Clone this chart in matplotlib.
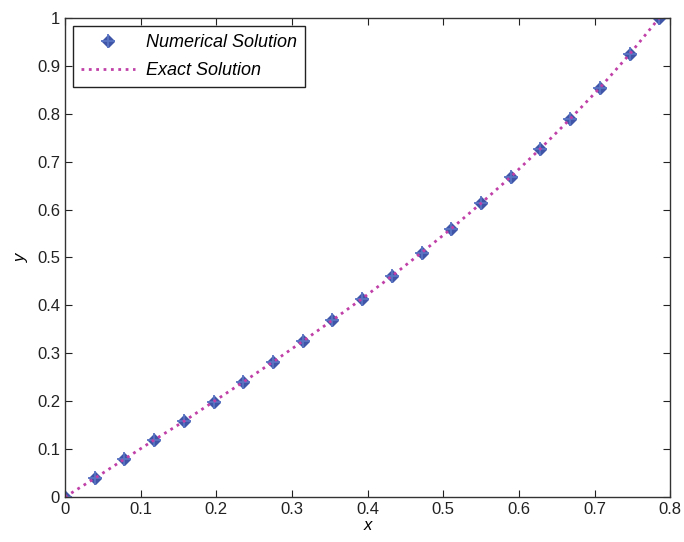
import numpy as np
import matplotlib
matplotlib.use("Agg")
import matplotlib.pyplot as plt
from matplotlib.ticker import FuncFormatter

plt.rcParams['font.family'] = ['Liberation Sans', 'DejaVu Sans']

# data
x_vals = [0.0, 0.0393, 0.0785, 0.1178, 0.1571, 0.1963, 0.2356, 0.2749, 0.3142, 0.3534,
          0.3927, 0.4320, 0.4712, 0.5105, 0.5498, 0.5890, 0.6283, 0.6676, 0.7069, 0.7461, 0.7854]
y_num = [0.0, 0.039, 0.079, 0.119, 0.158, 0.199, 0.240, 0.282, 0.325, 0.369,
         0.414, 0.461, 0.510, 0.560, 0.613, 0.668, 0.727, 0.789, 0.854, 0.924, 1.0]
y_exact = [0.0, 0.039, 0.079, 0.119, 0.158, 0.199, 0.240, 0.282, 0.325, 0.369,
           0.414, 0.461, 0.510, 0.560, 0.613, 0.668, 0.727, 0.789, 0.854, 0.924, 1.0]

fig = plt.figure(figsize=(6.84, 5.42), dpi=100)
ax = fig.add_axes([0.095, 0.083, 0.885, 0.884])

h1, = ax.plot(x_vals, y_num, linestyle='none', marker='D', markersize=6.5, color='#3f56a8',
              markeredgecolor='#3f56a8')
h2, = ax.plot(x_vals, y_num, linestyle='none', marker='+', markersize=10, color='#5a74c4',
              markeredgewidth=1.3)
h3, = ax.plot(x_vals, y_exact, linestyle=':', linewidth=2, color='#c040a8')

ax.set_xlim(0, 0.8)
ax.set_ylim(0, 1)
ax.set_xticks(np.arange(0, 0.81, 0.1))
ax.set_yticks(np.arange(0, 1.01, 0.1))
fmt = FuncFormatter(lambda v, p: ('%g' % round(v, 2)))
ax.xaxis.set_major_formatter(fmt)
ax.yaxis.set_major_formatter(fmt)
ax.tick_params(direction='in', top=True, right=True, labelsize=12, length=5, colors='#222222')
for s in ax.spines.values():
    s.set_color('#333333')
    s.set_linewidth(1.0)

ax.set_xlabel('x', fontstyle='italic', fontsize=12, labelpad=1)
ax.set_ylabel('y', fontstyle='italic', fontsize=12, labelpad=6)

leg = ax.legend([(h1, h2), h3], ['Numerical Solution', 'Exact Solution'],
                loc='upper left', prop={'style': 'italic', 'size': 13},
                fancybox=False, edgecolor='#222222', framealpha=1,
                borderaxespad=0.45, handlelength=3.0, handletextpad=0.6,
                borderpad=0.45, labelspacing=0.6)
leg.get_frame().set_linewidth(1.0)

fig.savefig('out.png', dpi=100)
